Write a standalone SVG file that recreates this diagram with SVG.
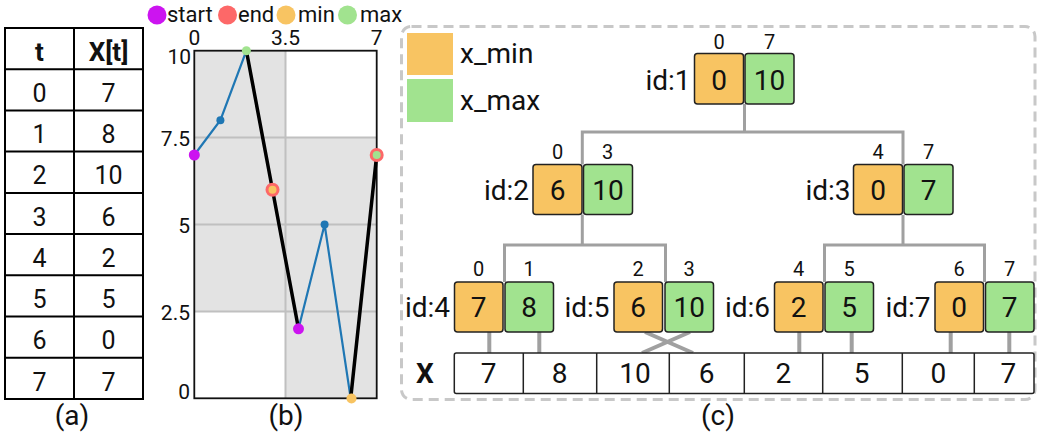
<svg xmlns="http://www.w3.org/2000/svg" width="1041" height="440" viewBox="0 0 1041 440">
<style>
text{font-family:Roboto,"Liberation Sans",sans-serif;fill:#111}
.tb{font-size:25px;text-anchor:middle}
.tbh{font-size:26px;text-anchor:middle;font-weight:bold}
.cap{font-size:28px;text-anchor:middle}
.leg{font-size:22px}
.ax{font-size:21px;text-anchor:middle}
.axr{font-size:21px;text-anchor:end}
.mn{fill:#f8c462;stroke:#222;stroke-width:1.5}
.mx{fill:#a1e38f;stroke:#222;stroke-width:1.5}
.val{font-size:28px;text-anchor:middle}
.idx{font-size:20px;text-anchor:middle}
.id{font-size:28px;text-anchor:end}
.con{fill:none;stroke:#a0a0a0;stroke-width:3}
.con2{fill:none;stroke:#a0a0a0;stroke-width:4}
.grid{stroke:#c0c0c0;stroke-width:2}
</style>
<rect width="1041" height="440" fill="#fff"/>

<g id="table">
<rect x="5" y="28" width="138" height="371" fill="none" stroke="#000" stroke-width="2"/>
<path d="M74,28V399M5,69.2H143M5,110.4H143M5,151.6H143M5,192.9H143M5,234H143M5,275.3H143M5,316.4H143M5,357.7H143" stroke="#000" stroke-width="2" fill="none"/>
<text class="tbh" x="39.5" y="61">t</text>
<text class="tbh" x="108.5" y="61">X[t]</text>
<g id="col-t">
<text class="tb" x="39.5" y="102">0</text>
<text class="tb" x="39.5" y="143.2">1</text>
<text class="tb" x="39.5" y="184.4">2</text>
<text class="tb" x="39.5" y="225.7">3</text>
<text class="tb" x="39.5" y="266.8">4</text>
<text class="tb" x="39.5" y="308.1">5</text>
<text class="tb" x="39.5" y="349.2">6</text>
<text class="tb" x="39.5" y="390.5">7</text>
</g>
<g id="col-x">
<text class="tb" x="108.5" y="102">7</text>
<text class="tb" x="108.5" y="143.2">8</text>
<text class="tb" x="108.5" y="184.4">10</text>
<text class="tb" x="108.5" y="225.7">6</text>
<text class="tb" x="108.5" y="266.8">2</text>
<text class="tb" x="108.5" y="308.1">5</text>
<text class="tb" x="108.5" y="349.2">0</text>
<text class="tb" x="108.5" y="390.5">7</text>
</g>
<text class="cap" x="72" y="425">(a)</text>
</g>

<g id="chart">
<g id="chart-legend">
<circle cx="157" cy="15" r="9.5" fill="#cc14f0"/><text class="leg" x="167" y="22">start</text>
<circle cx="227.5" cy="15" r="9.5" fill="#fd6868"/><text class="leg" x="238" y="22">end</text>
<circle cx="286" cy="15" r="9.5" fill="#f8c462"/><text class="leg" x="298" y="22">min</text>
<circle cx="347.5" cy="15" r="9.5" fill="#a1e38f"/><text class="leg" x="360" y="22">max</text>
</g>
<rect x="194.3" y="50.7" width="91.2" height="260.7" fill="#e3e3e3"/>
<rect x="285.5" y="137.6" width="91.2" height="260.7" fill="#e3e3e3"/>
<path class="grid" d="M285.5,50.7V398.3M194.3,137.6H376.7M194.3,224.5H376.7M194.3,311.4H376.7"/>
<rect x="194.3" y="50.7" width="182.4" height="347.6" fill="none" stroke="#111" stroke-width="1.8"/>
<text class="ax" x="194.3" y="45">0</text>
<text class="ax" x="285.5" y="45">3.5</text>
<text class="ax" x="376.7" y="45">7</text>
<text class="axr" x="191" y="64">10</text>
<text class="axr" x="190" y="145.5">7.5</text>
<text class="axr" x="190" y="232.5">5</text>
<text class="axr" x="190" y="319.5">2.5</text>
<text class="axr" x="190" y="399">0</text>
<path d="M194.3,155L220.4,120.2L246.4,50.7M298.5,328.8L324.6,224.5L350.7,398.3" fill="none" stroke="#1f77b4" stroke-width="2.2"/>
<path d="M246.4,50.7L272.5,189.7L298.5,328.8M350.7,398.3L376.7,155" fill="none" stroke="#000" stroke-width="3.5"/>
<circle cx="194.3" cy="155" r="5.5" fill="#cc14f0"/>
<circle cx="220.4" cy="120.2" r="4" fill="#1f77b4"/>
<circle cx="246.4" cy="50.7" r="4.5" fill="#a1e38f"/>
<circle cx="272.5" cy="189.7" r="7" fill="#fd6868"/><circle cx="272.5" cy="189.7" r="4" fill="#f8c462"/>
<circle cx="298.5" cy="328.8" r="5.5" fill="#cc14f0"/>
<circle cx="324.6" cy="224.5" r="4" fill="#1f77b4"/>
<circle cx="351.5" cy="398.5" r="5" fill="#f8c462"/>
<circle cx="376.7" cy="155" r="7" fill="#fd6868"/><circle cx="376.7" cy="155" r="4" fill="#a1e38f"/>
<text class="cap" x="286" y="425">(b)</text>
</g>

<g id="panel-c">
<rect x="401.5" y="26.5" width="633.5" height="373" rx="10" fill="none" stroke="#c8c8c8" stroke-width="3" stroke-dasharray="10 6"/>
<g id="legend">
<rect x="407" y="33" width="46" height="42" fill="#f8c462"/>
<rect x="407" y="79" width="46" height="43" fill="#a1e38f"/>
<text x="460" y="63" style="font-size:28px">x_min</text>
<text x="460" y="110" style="font-size:28px">x_max</text>
</g>

<g id="connectors">
<path class="con" d="M744.5,104V132M582.3,164.5V132H903V164.5"/>
<path class="con" d="M582.3,214.5V245M504.5,282V245H665.5V282"/>
<path class="con" d="M903,215V245M824.5,282V245H984.5V282"/>
<path class="con2" d="M489.3,332V353M539.3,332V353M645,332L693,353M690,332L642,353M799.3,332V353M851.7,332V353M950.7,332V353M1009.3,332V353"/>
</g>

<g id="node1">
<text class="id" x="690.5" y="89.5">id:1</text>
<text class="idx" x="719" y="49">0</text><text class="idx" x="769.5" y="49">7</text>
<rect class="mn" x="694.5" y="53.5" width="49" height="50.5" rx="3"/>
<rect class="mx" x="745" y="53.5" width="49" height="50.5" rx="3"/>
<text class="val" x="719" y="89.5">0</text><text class="val" x="769.5" y="89.5">10</text>
</g>
<g id="node2">
<text class="id" x="529" y="199.5">id:2</text>
<text class="idx" x="557.5" y="158.5">0</text><text class="idx" x="607.5" y="158.5">3</text>
<rect class="mn" x="533" y="164.5" width="49" height="50" rx="3"/>
<rect class="mx" x="583.5" y="164.5" width="49" height="50" rx="3"/>
<text class="val" x="557.5" y="199.5">6</text><text class="val" x="608" y="199.5">10</text>
</g>
<g id="node3">
<text class="id" x="850.5" y="199.5">id:3</text>
<text class="idx" x="878" y="158.5">4</text><text class="idx" x="928.5" y="158.5">7</text>
<rect class="mn" x="853.5" y="164.5" width="49" height="50" rx="3"/>
<rect class="mx" x="904" y="164.5" width="49" height="50" rx="3"/>
<text class="val" x="878" y="199.5">0</text><text class="val" x="928.5" y="199.5">7</text>
</g>
<g id="node4">
<text class="id" x="450" y="317">id:4</text>
<text class="idx" x="478.7" y="276">0</text><text class="idx" x="529.2" y="276">1</text>
<rect class="mn" x="454.5" y="282" width="48.5" height="50" rx="3"/>
<rect class="mx" x="505" y="282" width="48.5" height="50" rx="3"/>
<text class="val" x="478.7" y="317">7</text><text class="val" x="529.2" y="317">8</text>
</g>
<g id="node5">
<text class="id" x="609.5" y="317">id:5</text>
<text class="idx" x="638.2" y="276">2</text><text class="idx" x="689.2" y="276">3</text>
<rect class="mn" x="614" y="282" width="48.5" height="50" rx="3"/>
<rect class="mx" x="665" y="282" width="48.5" height="50" rx="3"/>
<text class="val" x="638.2" y="317">6</text><text class="val" x="689.2" y="317">10</text>
</g>
<g id="node6">
<text class="id" x="770" y="317">id:6</text>
<text class="idx" x="798.7" y="276">4</text><text class="idx" x="849.2" y="276">5</text>
<rect class="mn" x="774.5" y="282" width="48.5" height="50" rx="3"/>
<rect class="mx" x="825" y="282" width="48.5" height="50" rx="3"/>
<text class="val" x="798.7" y="317">2</text><text class="val" x="849.2" y="317">5</text>
</g>
<g id="node7">
<text class="id" x="930.5" y="317">id:7</text>
<text class="idx" x="959.2" y="276">6</text><text class="idx" x="1009.7" y="276">7</text>
<rect class="mn" x="935" y="282" width="48.5" height="50" rx="3"/>
<rect class="mx" x="985.5" y="282" width="48.5" height="50" rx="3"/>
<text class="val" x="959.2" y="317">0</text><text class="val" x="1009.7" y="317">7</text>
</g>

<g id="array">
<text x="425" y="383" style="font-size:28px;font-weight:bold;text-anchor:middle">X</text>
<rect x="454.3" y="353" width="579.7" height="40.5" rx="2" fill="#fff" stroke="#222" stroke-width="1.5"/>
<path d="M523.3,353V393.5M596.7,353V393.5M669.3,353V393.5M744.3,353V393.5M822.7,353V393.5M902.3,353V393.5M974.3,353V393.5" stroke="#222" stroke-width="1.5"/>
<text class="val" x="488.5" y="383">7</text>
<text class="val" x="559.5" y="383">8</text>
<text class="val" x="635" y="383">10</text>
<text class="val" x="706.7" y="383">6</text>
<text class="val" x="783.3" y="383">2</text>
<text class="val" x="861.7" y="383">5</text>
<text class="val" x="938.3" y="383">0</text>
<text class="val" x="1008.3" y="383">7</text>
</g>
<text class="cap" x="718" y="425">(c)</text>
</g>
</svg>
